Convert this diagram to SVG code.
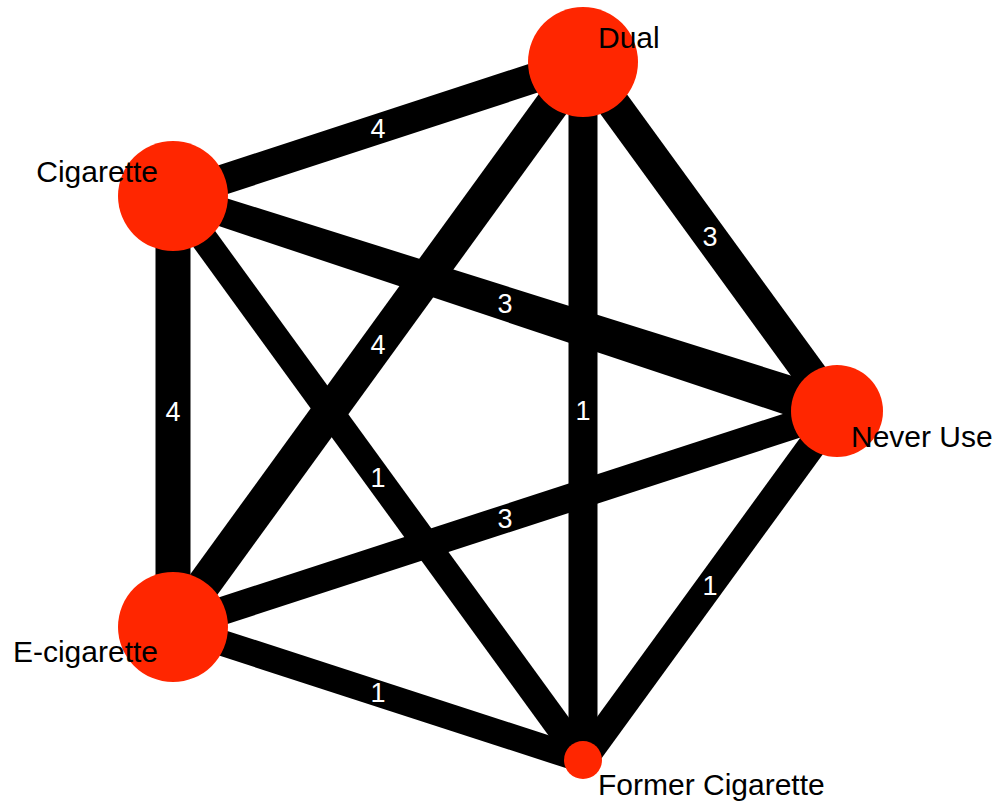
<svg xmlns="http://www.w3.org/2000/svg" width="1000" height="805" viewBox="0 0 1000 805">
<style>
.e{stroke:#000;fill:none;stroke-linecap:butt}
.el{fill:#fff;font-family:"Liberation Sans",Arial,sans-serif;font-size:27px;text-anchor:middle;dominant-baseline:central}
.n{fill:#ff2600}
.nl{fill:#000;font-family:"Liberation Sans",Arial,sans-serif;font-size:30px}
</style>
<rect width="1000" height="805" fill="#fff"/>
<g id="connectors">
<line class="e" x1="583" y1="62" x2="173" y2="196" stroke-width="30"/>
<line class="e" x1="583" y1="62" x2="837" y2="411" stroke-width="33"/>
<polygon points="168.7,209.3 177.3,182.7 843.2,392.0 830.8,430.0" fill="#000"/>
<line class="e" x1="583" y1="62" x2="173" y2="627" stroke-width="34"/>
<line class="e" x1="583" y1="62" x2="583" y2="760" stroke-width="29"/>
<line class="e" x1="173" y1="196" x2="173" y2="627" stroke-width="35"/>
<line class="e" x1="173" y1="196" x2="583" y2="760" stroke-width="27"/>
<line class="e" x1="173" y1="627" x2="837" y2="411" stroke-width="28"/>
<line class="e" x1="837" y1="411" x2="583" y2="760" stroke-width="28"/>
<line class="e" x1="173" y1="627" x2="583" y2="760" stroke-width="26"/>
<text class="el" x="378" y="129">4</text>
<text class="el" x="710" y="237">3</text>
<text class="el" x="505" y="304">3</text>
<text class="el" x="378" y="345">4</text>
<text class="el" x="583" y="411">1</text>
<text class="el" x="173" y="412">4</text>
<text class="el" x="378" y="478">1</text>
<text class="el" x="505" y="519">3</text>
<text class="el" x="710" y="586">1</text>
<text class="el" x="378" y="693">1</text>
</g>
<g id="node-dual"><circle class="n" cx="583" cy="62" r="55"/><text class="nl" x="598" y="48">Dual</text></g>
<g id="node-cigarette"><circle class="n" cx="173" cy="196" r="55"/><text class="nl" x="158" y="182" text-anchor="end">Cigarette</text></g>
<g id="node-never-use"><circle class="n" cx="837" cy="411" r="46"/><text class="nl" x="851" y="447">Never Use</text></g>
<g id="node-e-cigarette"><circle class="n" cx="173" cy="627" r="55"/><text class="nl" x="158" y="662" text-anchor="end">E-cigarette</text></g>
<g id="node-former-cigarette"><circle class="n" cx="583" cy="760" r="19"/><text class="nl" x="598" y="795">Former Cigarette</text></g>
</svg>
